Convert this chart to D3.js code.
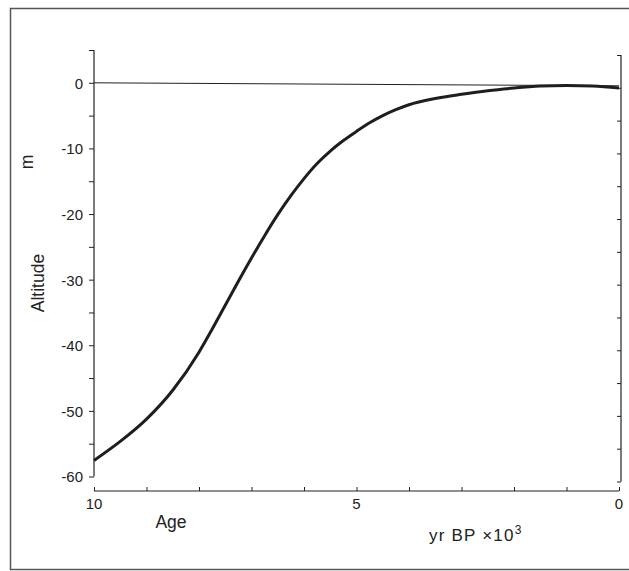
<!DOCTYPE html>
<html>
<head>
<meta charset="utf-8">
<script src="https://cdn.jsdelivr.net/npm/d3@7"></script>
<style>
  body { margin: 0; background: #fff; }
  svg { display: block; }
</style>
</head>
<body>
<div class="chart"></div>
<script>
// sea level curve: altitude (m) against age (yr BP x 10^3)
var ages = [10, 9.5, 9, 8.5, 8, 7.75, 7.5, 7.25, 7, 6.75, 6.5, 6.25, 6, 5.75, 5.5, 5.25, 5, 4.75, 4.5, 4.25, 4, 3.5, 3, 2.5, 2, 1.5, 1, 0.5, 0];
var altitude = [-57.55, -54.65, -51.25, -46.85, -41.05, -37.55, -33.9, -30.25, -26.7, -23.3, -20.1, -17.2, -14.6, -12.3, -10.4, -8.8, -7.4, -6.1, -5.0, -4.1, -3.35, -2.4, -1.75, -1.2, -0.8, -0.5, -0.4, -0.5, -0.8];
var yTicks = [0, -10, -20, -30, -40, -50, -60];
var xTicks = [10, 5, 0];

var svg = d3.select(".chart")
            .append("svg")
            .attr("width", 629)
            .attr("height", 571);

var x = d3.scaleLinear().domain([10, 0]).range([94, 619]);
var y = d3.scaleLinear().domain([5, -60]).range([50, 476.5]);

var ink = "#222";
var font = "'Liberation Sans', Arial, sans-serif";

// outer frame
svg.append("rect")
    .attr("x", 10.5)
    .attr("y", 8.5)
    .attr("width", 640)
    .attr("height", 561)
    .attr("fill", "none")
    .style("stroke", "#555")
    .style("stroke-width", 1.5);

// left axis
var yAxis = svg.append("g")
    .attr("transform", "translate(" + x(10) + ",0)")
    .call(d3.axisLeft(y).tickValues(d3.range(5, -61, -5)).tickSize(5).tickFormat(function(d) {
        return yTicks.indexOf(d) >= 0 ? d : "";
    }));

// right axis, no labels
var yAxisR = svg.append("g")
    .attr("transform", "translate(" + (x(0) + 2) + ",5)")
    .call(d3.axisLeft(y).tickValues(d3.range(5, -61, -5)).tickSize(4).tickFormat(""));

// bottom axis, ticks pointing up
var xAxis = svg.append("g")
    .attr("transform", "translate(0,491)")
    .call(d3.axisTop(x).ticks(10).tickSize(4).tickFormat(""));

[yAxis, yAxisR, xAxis].forEach(function(g) {
    g.select(".domain").attr("stroke", ink).attr("stroke-width", 1.2);
    g.selectAll(".tick line").attr("stroke", ink).attr("stroke-width", 1);
    g.selectAll("text")
        .attr("font-family", font)
        .style("font-size", "15px")
        .attr("fill", ink);
});
// plain axis lines without end caps
yAxis.select(".domain").attr("d", "M0," + y(5) + "V" + y(-60));
yAxisR.select(".domain").attr("d", "M0," + y(5) + "V" + y(-60));
xAxis.select(".domain").attr("d", "M" + x(10) + ",0H" + x(0));
yAxis.selectAll(".tick text").attr("x", -11).attr("dy", "0.36em");

// x tick labels
svg.selectAll(".xlab")
    .data(xTicks)
    .enter()
    .append("text")
    .attr("x", function(d) { return x(d); })
    .attr("y", 509)
    .attr("text-anchor", "middle")
    .text(function(d) { return d; })
    .attr("font-family", font)
    .style("font-size", "15px")
    .attr("fill", ink);

// zero line
svg.append("line")
    .attr("x1", x(10))
    .attr("y1", y(0))
    .attr("x2", x(0))
    .attr("y2", y(0) + 3)
    .style("stroke", ink)
    .style("stroke-width", 1);

// curve
var line = d3.line()
    .x(function(d, i) { return x(ages[i]); })
    .y(function(d) { return y(d); })
    .curve(d3.curveMonotoneX);

svg.append("path")
    .datum(altitude)
    .attr("d", line)
    .attr("fill", "none")
    .style("stroke", "#1e1e1e")
    .style("stroke-width", 3);

// axis titles
svg.append("text")
    .attr("transform", "translate(44,283) rotate(-90)")
    .attr("text-anchor", "middle")
    .text("Altitude")
    .attr("font-family", font)
    .style("font-size", "17.5px")
    .attr("fill", ink);

svg.append("text")
    .attr("transform", "translate(33,162) rotate(-90)")
    .attr("text-anchor", "middle")
    .text("m")
    .attr("font-family", font)
    .style("font-size", "17.5px")
    .attr("fill", ink);

svg.append("text")
    .attr("x", 171)
    .attr("y", 528)
    .attr("text-anchor", "middle")
    .text("Age")
    .attr("font-family", font)
    .style("font-size", "17.5px")
    .attr("fill", ink);

var unit = svg.append("text")
    .attr("x", 429)
    .attr("y", 541)
    .attr("font-family", font)
    .style("font-size", "17px")
    .style("letter-spacing", "1.2px")
    .attr("fill", ink);
unit.append("tspan").text("yr BP ×10");
unit.append("tspan")
    .attr("dy", -7)
    .style("font-size", "12px")
    .text("3");
</script>
</body>
</html>
